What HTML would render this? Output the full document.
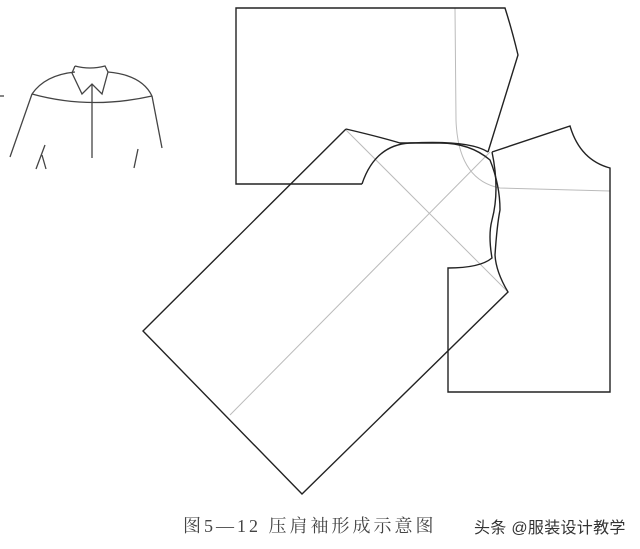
<!DOCTYPE html>
<html><head><meta charset="utf-8"><style>
html,body{margin:0;padding:0;background:#fff;}
.c{position:absolute;left:0;top:0;width:640px;height:549px;overflow:hidden;background:#fff;}
.t1{position:absolute;left:183px;top:512px;font:18px "Liberation Serif","Noto Serif CJK SC",serif;color:#444;white-space:nowrap;letter-spacing:3px;}
.t2{position:absolute;left:474px;top:514px;font:16px "Liberation Sans","Noto Sans CJK SC",sans-serif;color:#333;white-space:nowrap;letter-spacing:0.3px;}
</style></head><body><div class="c">
<svg width="640" height="549" style="position:absolute;left:0;top:0">
<g fill="none" stroke="#bbb" stroke-width="1">
<path d="M455 8 L456 120 Q458 180 500 188 L610 191"/>
<line x1="230" y1="415" x2="490" y2="152"/>
<line x1="346" y1="130" x2="508" y2="292"/>
</g>
<g fill="none" stroke="#222" stroke-width="1.4">
<path d="M362 184 L236 184 L236 8 L505 8 Q512 30 518 55 L488 152"/>
<path d="M346 129 L143 331 L302 494 L508 292 Q496 272 495 255 Q497 225 500 210 Q500 185 490 160 Q470 143 440 143 L400 143 Q380 137 346 129"/>
<path d="M362 184 Q375 145 410 143 Q470 140 488 152"/>
<path d="M492 152 L570 126 Q580 160 610 168 L610 392 L448 392 L448 268 Q480 268 492 258 Q488 235 492 220 Q500 190 492 152"/>
</g>
<g fill="none" stroke="#444" stroke-width="1.3">
<line x1="0" y1="96" x2="4" y2="96"/>
<path d="M32 94 Q45 75 75 72 M108 72 Q142 75 152 96"/>
<path d="M32 94 Q90 110 152 96"/>
<path d="M75 66 L72 73 L82 94 L92 84 L102 94 L108 72 L105 66 Q90 70 75 66"/>
<line x1="92" y1="84" x2="92" y2="158"/>
<path d="M32 94 L10 157 M152 96 L162 148"/>
<path d="M45 145 L36 169 M42 155 L46 169 M138 149 L134 168"/>
</g>
</svg>
<div class="t1">图5—12 压肩袖形成示意图</div>
<div class="t2">头条 @服装设计教学</div>
</div></body></html>
